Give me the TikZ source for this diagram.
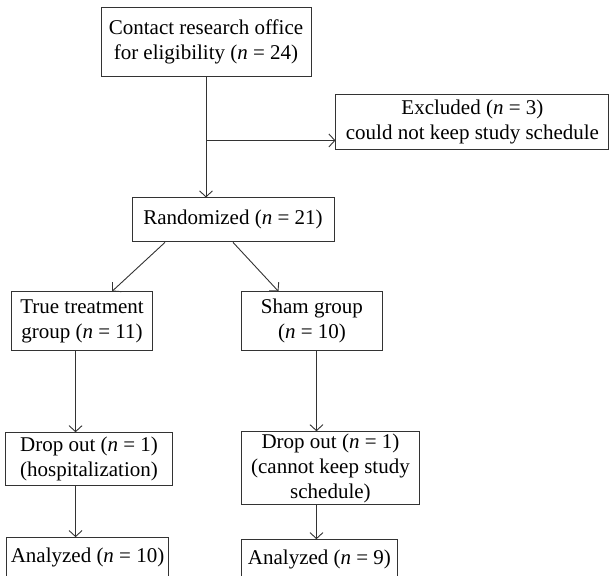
\documentclass[tikz,border=0pt]{standalone}
\usepackage{fontspec}
\setmainfont{Liberation Serif}
\usetikzlibrary{positioning,arrows.meta}
\tikzstyle{boxed} = [rectangle, draw=black!80, line width=0.9pt, text centered, align=center, inner sep=2pt, font=\fontsize{21}{25}\selectfont]
\tikzstyle{flow} = [line width=0.9pt, draw=black!80, -{Straight Barb[length=6pt,width=13pt]}]

\begin{document}
\begin{tikzpicture}[x=1pt,y=-1pt]
			\useasboundingbox (0,0) rectangle (609,575);
			\node (contact) [boxed, minimum width=210pt, minimum height=69pt] at (206,41.5) {Contact research office\\for eligibility (\textit{n} = 24)};
			\node (excluded) [boxed, minimum width=273pt, minimum height=55pt, below right=18pt and 24pt of contact.south east] {Excluded (\textit{n} = 3)\\could not keep study schedule};
			\node (rand) [boxed, minimum width=202pt, minimum height=44pt, below=121pt of contact, xshift=27pt] {Randomized (\textit{n} = 21)};
			\node (treat) [boxed, minimum width=141pt, minimum height=59pt, below left=49pt and 80pt of rand.south] {True treatment\\group (\textit{n} = 11)};
			\node (sham) [boxed, minimum width=141pt, minimum height=59pt, below right=49pt and 8pt of rand.south] {Sham group\\(\textit{n} = 10)};
			\node (drop1) [boxed, minimum width=167pt, minimum height=53pt, below=81pt of treat, xshift=7pt] {Drop out (\textit{n} = 1)\\(hospitalization)};
			\node (an1) [boxed, minimum width=162pt, minimum height=40pt, below=51pt of drop1, xshift=-1.5pt] {Analyzed (\textit{n} = 10)};
			\node (drop2) [boxed, minimum width=178pt, minimum height=71pt, below=80pt of sham.south west, anchor=north west] {Drop out (\textit{n} = 1)\\(cannot keep study\\schedule)};
			\node (an2) [boxed, minimum width=156pt, minimum height=40pt, below=34pt of drop2.south west, anchor=north west] {Analyzed (\textit{n} = 9)};

			\coordinate (split) at ([yshift=-64pt]contact.south);
			\coordinate (col1) at ([xshift=-6.5pt]treat.south);
			\coordinate (col2) at ([xshift=4.5pt]sham.south);

			\draw [flow] (contact.south) -- (contact.south |- rand.north);
			\draw [flow] (split) -- (split -| excluded.west);
			\draw [flow] ([xshift=-68pt]rand.south) -- ([xshift=30pt]treat.north);
			\draw [flow] (rand.south) -- ([xshift=-33.5pt]sham.north);
			\draw [flow] (col1) -- (col1 |- drop1.north);
			\draw [flow] (col1 |- drop1.south) -- (col1 |- an1.north);
			\draw [flow] (col2) -- (col2 |- drop2.north);
			\draw [flow] (col2 |- drop2.south) -- (col2 |- an2.north);
			\end{tikzpicture}
\end{document}
